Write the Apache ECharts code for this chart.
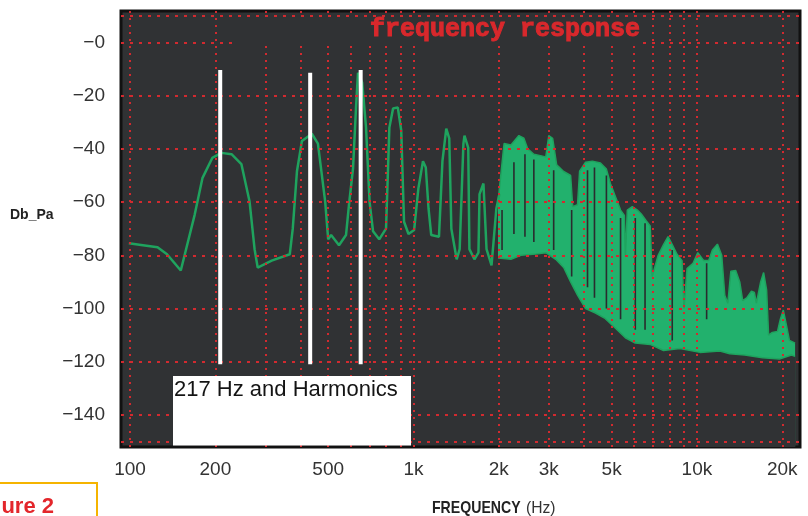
<!DOCTYPE html>
<html><head><meta charset="utf-8">
<script src="https://cdn.jsdelivr.net/npm/echarts@6/dist/echarts.min.js"></script>
<style>html,body{margin:0;padding:0;background:#fff}#c{width:808px;height:516px}</style>
</head><body><div id="c"></div>
<script>
// ---- data (frequency in Hz, level in dB) ----
const lineFreq = [99, 111, 125, 135, 151, 169, 180, 195, 210, 228, 247, 264, 275, 282, 316, 366, 375, 388, 404, 438, 460, 488, 500, 512, 546, 578, 592, 612, 627, 637, 659, 680, 700, 720, 757, 800, 822, 847, 880, 905, 926, 960, 1005, 1040, 1080, 1105, 1130, 1155, 1230, 1265, 1305, 1337, 1360, 1420, 1455, 1500, 1513, 1560, 1575, 1640, 1695, 1710, 1765, 1810, 1885, 1960, 2010];
const lineDb = [-75.5, -76.2, -77, -79.6, -85.7, -64.8, -51, -43.4, -41.5, -42, -45.7, -59.8, -77.7, -84.6, -82, -79.6, -70, -48.4, -37, -34.3, -38, -59.8, -74, -72.4, -76.2, -72.4, -61, -47.2, -24.4, -11.4, -15, -32, -60, -71, -74, -70, -32, -24.8, -24.4, -33, -67.4, -72, -70.5, -55, -44.6, -47, -62.5, -72.4, -73, -44.6, -32.4, -36, -70, -81.5, -77.7, -38, -35, -39.6, -77.7, -81.5, -79, -57, -53, -77.7, -83.8, -62.5, -57];

const bandTopFreq = [1987, 2087, 2207, 2354, 2452, 2530, 2658, 2929, 3001, 3097, 3200, 3387, 3584, 3645, 3790, 3855, 4046, 4277, 4566, 4793, 4951, 5160, 5377, 5546, 5591, 5681, 5915, 6163, 6362, 6620, 6841, 6952, 7120, 7299, 7622, 7910, 8182, 8507, 8859, 9004, 9227, 9688, 10070, 10570, 11000, 11340, 11810, 12230, 12540, 12850, 13170, 13700, 14160, 14500, 14980, 15570, 15950, 16210, 16780, 17190, 17610, 17900, 18450, 19240, 19690, 20170, 20660, 21200, 22200];
const bandTopDb = [-60, -38, -38.5, -35, -36, -40, -42, -43, -35, -36, -46, -48.5, -50, -61.7, -61, -48.4, -45, -44.6, -45.3, -47.6, -53, -58, -63, -65, -80, -63, -61.7, -63, -64.5, -67, -69, -88, -84, -80, -76, -73, -76, -79.6, -82, -100, -85, -83, -79, -82, -82, -78, -75.8, -80, -95, -98, -86, -85.7, -90, -97, -96, -93.5, -94, -98, -90, -86.5, -93, -110, -109, -108.6, -104, -100.6, -106, -112, -113];

const bandLowFreq = [1987, 2207, 2393, 2701, 2929, 3175, 3387, 3584, 3790, 4046, 4387, 4720, 5160, 5591, 6060, 6841, 7622, 8717, 10250, 12040, 13060, 14750, 17040, 19550, 21550, 22200];
const bandLowDb = [-81, -81.5, -80, -79.5, -79, -81.5, -84.6, -90, -95, -100, -101.7, -103.6, -107.4, -111, -113, -113.5, -115.8, -115, -116.5, -116, -117, -117.5, -118.5, -119, -117.5, -118];

// dark gaps seen inside the dense band (frequency, top dB, bottom dB)
const gapFreq = [2053, 2261, 2473, 2658, 3123, 3614, 4111, 4350, 4793, 5377, 6060, 6560, 8182, 10820];
const gapTopDb = [-63, -45, -42, -44, -48, -63, -48, -47, -50, -66, -66, -68, -78, -83];
const gapBottomDb = [-78, -72, -73, -75, -78, -88, -92, -96, -100, -104, -108, -108, -112, -104];

const harmonicFreq = [208, 432, 651];
const harmonicTopDb = [-10.3, -11.4, -10.3];
const harmonicBottomDb = [-121, -121, -121];

const gridFreq = [100, 200, 300, 400, 500, 600, 700, 800, 900, 1000, 2000, 3000, 4000, 5000, 6000, 7000, 8000, 9000, 10000, 20000];
const gridDb = [10, 0, -20, -40, -60, -80, -100, -120, -140, -150];

const yTickValues = [0, -20, -40, -60, -80, -100, -120, -140];
const xTickFreq = [100, 200, 500, 1000, 2000, 3000, 5000, 10000, 20000];
const xTickText = ['100', '200', '500', '1k', '2k', '3k', '5k', '10k', '20k'];

// ---- chart ----
const PLOT_BG = '#303234';
const GREEN_LINE = '#1fa35e';
const GREEN_FILL = '#22b16d';
const GRID_RED = '#d22a2f';
const xMin = 92.9, xMax = 23100;
const zip = (a, b) => a.map((v, i) => [v, b[i]]);

const chart = echarts.init(document.getElementById('c'), null, { renderer: 'canvas' });

const harmonicSeries = harmonicFreq.map((f, i) => ({
  type: 'line', xAxisIndex: 0, z: 6, silent: true, symbol: 'none',
  data: [[f, harmonicTopDb[i]], [f, harmonicBottomDb[i]]],
  lineStyle: { color: '#ffffff', width: 4 }
}));
const gapSeries = gapFreq.map((f, i) => ({
  type: 'line', xAxisIndex: 0, z: 2, silent: true, symbol: 'none',
  data: [[f, gapTopDb[i]], [f, gapBottomDb[i]]],
  lineStyle: { color: '#2a2c2e', width: 1.6 }
}));

const option = {
  animation: false,
  backgroundColor: '#ffffff',
  textStyle: { fontFamily: 'Liberation Sans' },
  grid: { left: 121, right: 8, top: 11, bottom: 69, show: true, backgroundColor: PLOT_BG, borderColor: '#111111', borderWidth: 3 },
  xAxis: [
    { type: 'log', logBase: 10, min: xMin, max: xMax, show: false },
    {
      type: 'value', min: Math.log10(xMin), max: Math.log10(xMax), position: 'bottom',
      axisLine: { show: false }, axisTick: { show: false }, splitLine: { show: false },
      axisLabel: {
        customValues: xTickFreq.map(f => Math.log10(f)),
        formatter: v => {
          let best = 0;
          for (let i = 1; i < xTickFreq.length; i++) {
            if (Math.abs(Math.log10(xTickFreq[i]) - v) < Math.abs(Math.log10(xTickFreq[best]) - v)) best = i;
          }
          return xTickText[best];
        },
        margin: 13, fontSize: 19, color: '#333333', fontFamily: 'Liberation Sans'
      }
    }
  ],
  yAxis: {
    type: 'value', min: -152.07, max: 11.84,
    axisLine: { show: false }, axisTick: { show: false }, splitLine: { show: false },
    axisLabel: {
      customValues: yTickValues,
      formatter: v => '\u2212' + Math.abs(v),
      margin: 16, fontSize: 19, color: '#333333', fontFamily: 'Liberation Sans'
    }
  },
  series: [
    {
      name: 'band-top', type: 'line', xAxisIndex: 0, z: 2, silent: true, symbol: 'none',
      data: zip(bandTopFreq, bandTopDb),
      lineStyle: { color: GREEN_LINE, width: 1.5 },
      areaStyle: { color: GREEN_FILL, opacity: 1, origin: 'start' }
    },
    {
      name: 'band-low', type: 'line', xAxisIndex: 0, z: 2, silent: true, symbol: 'none',
      data: zip(bandLowFreq, bandLowDb),
      lineStyle: { color: GREEN_LINE, width: 1.5 },
      areaStyle: { color: PLOT_BG, opacity: 1, origin: 'start' }
    },
    ...gapSeries,
    {
      name: 'response', type: 'line', xAxisIndex: 0, z: 3, silent: true, symbol: 'none',
      data: zip(lineFreq, lineDb),
      lineStyle: { color: GREEN_LINE, width: 2.5 }
    },
    {
      name: 'grid', type: 'line', xAxisIndex: 0, z: 4, silent: true, data: [],
      markLine: {
        silent: true, symbol: ['none', 'none'], label: { show: false }, animation: false,
        emphasis: { disabled: true },
        lineStyle: { color: GRID_RED, width: 2, type: [2, 5], opacity: 1 },
        data: [
          ...gridFreq.map(f => ({ xAxis: f })),
          ...gridDb.map(d => ({ yAxis: d, lineStyle: { color: GRID_RED, width: 2, type: [3, 6], opacity: 1 } }))
        ]
      }
    },
    ...harmonicSeries
  ],
  graphic: [
    { type: 'rect', z: 90, silent: true, shape: { x: 236, y: 18, width: 406, height: 26 }, style: { fill: PLOT_BG } },
    { type: 'text', z: 100, silent: true, x: 505, y: 30,
      style: { text: 'frequency response', fill: '#d8282c', stroke: '#d8282c', lineWidth: 1, font: 'bold 25px "Liberation Mono"', align: 'center', verticalAlign: 'middle' } },
    { type: 'rect', z: 100, silent: true, shape: { x: 173, y: 376, width: 238, height: 69.5 }, style: { fill: '#ffffff' } },
    { type: 'text', z: 101, silent: true, x: 174, y: 390,
      style: { text: '217 Hz and Harmonics', fill: '#141414', font: '22px "Liberation Sans"', align: 'left', verticalAlign: 'middle' } },
    { type: 'text', z: 100, silent: true, x: 10, y: 215,
      style: { text: 'Db_Pa', fill: '#222222', font: 'bold 14px "Liberation Sans"', align: 'left', verticalAlign: 'middle' } },
    { type: 'text', z: 100, silent: true, x: 432, y: 508, scaleX: 0.83,
      style: { text: 'FREQUENCY', fill: '#222222', font: 'bold 17px "Liberation Sans"', align: 'left', verticalAlign: 'middle' } },
    { type: 'text', z: 100, silent: true, x: 526, y: 508, scaleX: 0.92,
      style: { text: '(Hz)', fill: '#333333', font: '17px "Liberation Sans"', align: 'left', verticalAlign: 'middle' } },
    { type: 'rect', z: 100, silent: true, shape: { x: -10, y: 483, width: 107, height: 60 }, style: { fill: 'none', stroke: '#f5b400', lineWidth: 2 } },
    { type: 'text', z: 100, silent: true, x: 54, y: 507,
      style: { text: 'Figure 2', fill: '#e3262b', font: 'bold 22px "Liberation Sans"', align: 'right', verticalAlign: 'middle' } }
  ]
};
chart.setOption(option);
</script>
</body></html>
